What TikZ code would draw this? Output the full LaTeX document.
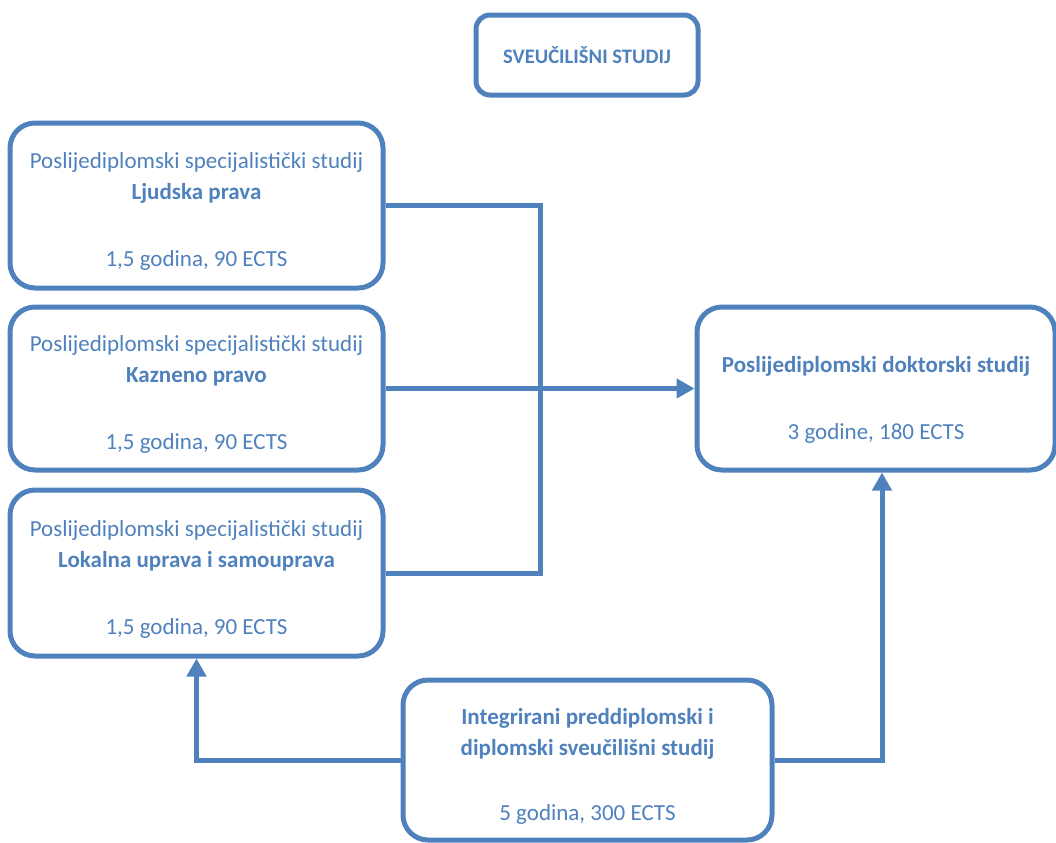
\documentclass[tikz,border=0pt]{standalone}
\usepackage{fontspec}
\setmainfont{Carlito}
\usetikzlibrary{arrows.meta}
\definecolor{bl}{HTML}{4F81BD}
\newcommand{\pushdown}[1]{\rule{0pt}{#1}}
\tikzset{
  box/.style={draw=bl, line width=2.5pt, rounded corners=12.5pt, inner sep=0pt,
    align=center, text=bl, font=\fontsize{11.5}{15.5}\selectfont},
  conn/.style={draw=bl, line width=2.5pt},
  arr/.style={conn, -{Triangle[length=9pt,width=9.5pt]}}
}
\begin{document}
\begin{tikzpicture}[x=0.5pt,y=-0.5pt]
\useasboundingbox (0,0) rectangle (1056,842);
\node[box, rounded corners=7pt, minimum width=111pt, minimum height=40pt, font=\bfseries\fontsize{10.3}{12}\selectfont] (top) at (587,55) {SVEUČILIŠNI STUDIJ};
\node[box, minimum width=186.5pt, minimum height=82.5pt] (b1) at (196.5,205.5)
  {\pushdown{14pt}Poslijediplomski specijalistički studij\\ \textbf{Ljudska prava}\\[18pt] 1,5 godina, 90 ECTS};
\node[box, minimum width=186.5pt, minimum height=81.5pt] (b2) at (196.5,388.5)
  {\pushdown{14pt}Poslijediplomski specijalistički studij\\ \textbf{Kazneno pravo}\\[18pt] 1,5 godina, 90 ECTS};
\node[box, minimum width=186.5pt, minimum height=83pt] (b3) at (196.5,573)
  {\pushdown{14pt}Poslijediplomski specijalistički studij\\ \textbf{Lokalna uprava i samouprava}\\[18pt] 1,5 godina, 90 ECTS};
\node[box, minimum width=179pt, minimum height=81.5pt] (doc) at (876,388.5)
  {\pushdown{19pt}\textbf{Poslijediplomski doktorski studij}\\[18pt] 3 godine, 180 ECTS};
\node[box, minimum width=184.5pt, minimum height=80pt] (int) at (587.5,760)
  {\pushdown{14pt}\textbf{Integrirani preddiplomski i}\\ \textbf{diplomski sveučilišni studij}\\[17pt] 5 godina, 300 ECTS};
\coordinate (j1) at (540,205.5);
\draw[conn] (b1.east) -- (j1) |- (b3.east);
\draw[arr] (b2.east) -- (b2.east -| doc.west);
\draw[arr] (int.west) -| (b3.south);
\draw[arr] (int.east) -| ([xshift=3pt]doc.south);
\end{tikzpicture}
\end{document}
